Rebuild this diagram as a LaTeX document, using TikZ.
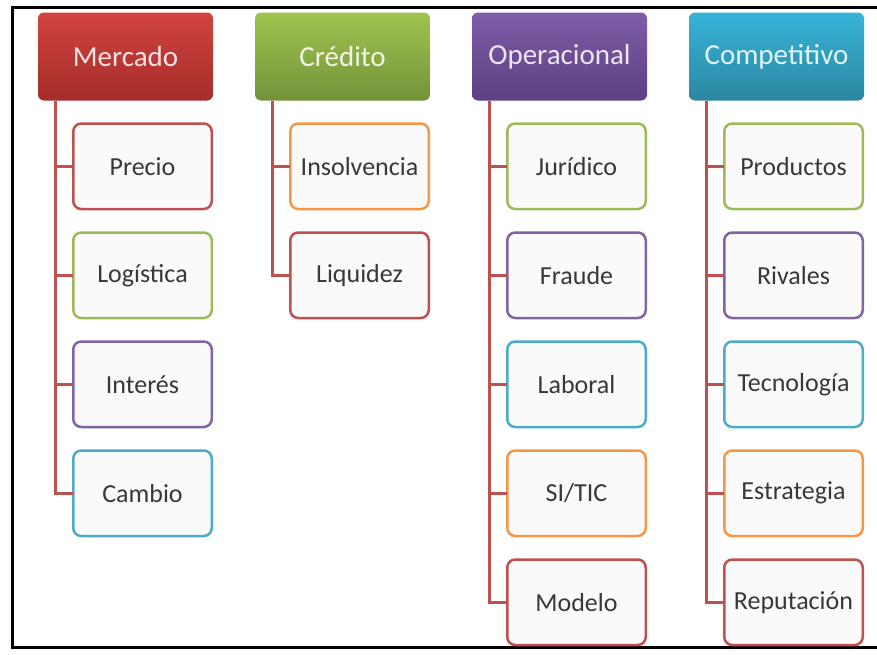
\documentclass[tikz,border=0pt]{standalone}
\usepackage{fontspec}
\setmainfont{Carlito}
\usepackage{tikz}
\usetikzlibrary{positioning}

\definecolor{rojo}{HTML}{C0504D}
\definecolor{verde}{HTML}{9BBB59}
\definecolor{morado}{HTML}{8064A2}
\definecolor{turquesa}{HTML}{4BACC6}
\definecolor{naranja}{HTML}{F79646}
\definecolor{rojoA}{HTML}{D0433F}
\definecolor{rojoB}{HTML}{A52D2A}
\definecolor{verdeA}{HTML}{9FC44F}
\definecolor{verdeB}{HTML}{74923A}
\definecolor{moradoA}{HTML}{7F5CA7}
\definecolor{moradoB}{HTML}{5D3F82}
\definecolor{turquesaA}{HTML}{37B3D7}
\definecolor{turquesaB}{HTML}{2C87A2}

\tikzset{
  cabeza/.style={rounded corners=6pt, minimum width=175pt, minimum height=88pt,
    inner sep=0pt, outer sep=0pt, text=white!85!#1, font=\fontsize{29}{33}\selectfont},
  hoja/.style={draw=#1, line width=2.5pt, rounded corners=8pt, fill=black!2,
    minimum width=138.5pt, minimum height=85.5pt, inner sep=0pt, outer sep=0pt,
    text=black!78, font=\fontsize{26}{30}\selectfont},
  rama/.style={draw=rojo, line width=3pt},
}

\begin{document}
\begin{tikzpicture}[x=1pt,y=-1pt]

  \useasboundingbox (0,0) rectangle (877,654);
  \draw[line width=3pt] (877,7.5) -- (12.5,7.5) -- (12.5,647.5) -- (877,647.5);

  \node[cabeza=rojoA, top color=rojoA, bottom color=rojoB] (merc) at (125.5,56.5) {Mercado};
  \node[cabeza=verdeA, top color=verdeA, bottom color=verdeB] (cred) at (342.5,56.5) {Crédito};
  \node[cabeza=moradoA, top color=moradoA, bottom color=moradoB] (oper) at (559.5,56.5) {Operacional};
  \node[cabeza=turquesaA, top color=turquesaA, bottom color=turquesaB] (comp) at (776.5,56.5) {Competitivo};

  \node[hoja=rojo, below left=23pt and 1.25pt of merc.south east] (precio) {Precio};
  \node[hoja=verde, below=23.5pt of precio] (logis) {Logística};
  \node[hoja=morado, below=23.5pt of logis] (inter) {Interés};
  \node[hoja=turquesa, below=23.5pt of inter] (cambio) {Cambio};

  \node[hoja=naranja, below left=23pt and 1.25pt of cred.south east] (insol) {Insolvencia};
  \node[hoja=rojo, below=23.5pt of insol] (liqui) {Liquidez};

  \node[hoja=verde, below left=23pt and 1.25pt of oper.south east] (jurid) {Jurídico};
  \node[hoja=morado, below=23.5pt of jurid] (fraude) {Fraude};
  \node[hoja=turquesa, below=23.5pt of fraude] (labor) {Laboral};
  \node[hoja=naranja, below=23.5pt of labor] (sitic) {SI/TIC};
  \node[hoja=rojo, below=23.5pt of sitic] (modelo) {Modelo};

  \node[hoja=verde, below left=23pt and 1.25pt of comp.south east] (produc) {Productos};
  \node[hoja=morado, below=23.5pt of produc] (rival) {Rivales};
  \node[hoja=turquesa, below=23.5pt of rival] (tecno) {Tecnología};
  \node[hoja=naranja, below=23.5pt of tecno] (estra) {Estrategia};
  \node[hoja=rojo, below=23.5pt of estra] (reput) {Reputación};

  \coordinate (merc-r) at ([xshift=17pt]merc.south west);
  \coordinate (cred-r) at ([xshift=17pt]cred.south west);
  \coordinate (oper-r) at ([xshift=17pt]oper.south west);
  \coordinate (comp-r) at ([xshift=17pt]comp.south west);

  \draw[rama] (merc-r) |- (precio.west);
  \draw[rama] (merc-r) |- (logis.west);
  \draw[rama] (merc-r) |- (inter.west);
  \draw[rama] (merc-r) |- (cambio.west);

  \draw[rama] (cred-r) |- (insol.west);
  \draw[rama] (cred-r) |- (liqui.west);

  \draw[rama] (oper-r) |- (jurid.west);
  \draw[rama] (oper-r) |- (fraude.west);
  \draw[rama] (oper-r) |- (labor.west);
  \draw[rama] (oper-r) |- (sitic.west);
  \draw[rama] (oper-r) |- (modelo.west);

  \draw[rama] (comp-r) |- (produc.west);
  \draw[rama] (comp-r) |- (rival.west);
  \draw[rama] (comp-r) |- (tecno.west);
  \draw[rama] (comp-r) |- (estra.west);
  \draw[rama] (comp-r) |- (reput.west);
\end{tikzpicture}
\end{document}
